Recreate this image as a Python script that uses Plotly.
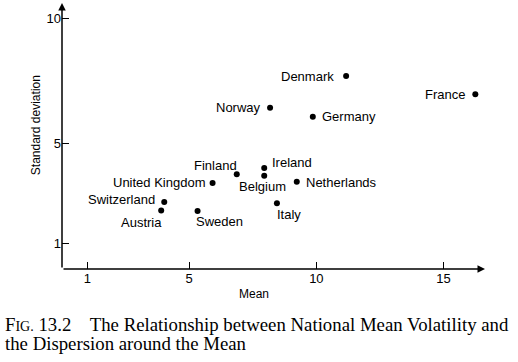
import plotly.graph_objects as go

countries = ["Denmark", "France", "Norway", "Germany", "Ireland", "Belgium", "Finland",
             "United Kingdom", "Netherlands", "Switzerland", "Austria", "Sweden", "Italy"]
mean_vol = [11.17, 16.25, 8.18, 9.86, 7.95, 7.95, 6.87, 5.92, 9.23, 4.02, 3.90, 5.33, 8.45]
std_dev = [7.69, 6.96, 6.43, 6.07, 4.02, 3.72, 3.78, 3.43, 3.48, 2.67, 2.33, 2.31, 2.62]
x_ticks = [1, 5, 10, 15]
y_ticks = [1, 5, 10]
x_max = 16.63
y_max = 10.6

# label placement (anchor side, pixel shifts) for each country
label_anchor = ["right", "right", "right", "left", "left", "center", "right",
                "right", "left", "right", "right", "left", "left"]
label_dx = [-10, -8, -7, 7, 6, -2, 2, -5, 7.5, -7, 2.5, -4, -1.5]
label_dy = [0, 0, 0, 0, 5.5, -11, 8.5, 0, -1, 2.5, -11.5, -10.5, -11]

font_sans = "Liberation Sans, Arial, sans-serif"
font_serif = "Liberation Serif, Times New Roman, serif"

fig = go.Figure()
fig.add_trace(go.Scatter(
    x=mean_vol, y=std_dev, mode="markers",
    marker=dict(color="black", size=6),
    cliponaxis=False, showlegend=False, hoverinfo="skip",
))

for name, xv, yv, anc, dx, dy in zip(countries, mean_vol, std_dev, label_anchor, label_dx, label_dy):
    fig.add_annotation(x=xv, y=yv, xref="x", yref="y", text=name, showarrow=False,
                       xanchor=anc, yanchor="middle", xshift=dx, yshift=dy,
                       font=dict(family=font_sans, size=13, color="black"))

axis_common = dict(showgrid=False, zeroline=False, showline=False,
                   ticks="inside", ticklen=7, tickwidth=1.3, tickcolor="black",
                   tickfont=dict(family=font_sans, size=13, color="black"))
fig.update_xaxes(range=[0, x_max], tickvals=x_ticks, **axis_common)
fig.update_yaxes(range=[0, y_max], tickvals=y_ticks, **axis_common)

# axes with arrowheads
fig.add_annotation(x=x_max, y=0, ax=0, ay=0, xref="x", yref="y", axref="x", ayref="y",
                   text="", showarrow=True, arrowhead=2, arrowsize=1, arrowwidth=1.5,
                   arrowcolor="black")
fig.add_annotation(x=0, y=y_max, ax=0, ay=0, xref="x", yref="y", axref="x", ayref="y",
                   text="", showarrow=True, arrowhead=2, arrowsize=1, arrowwidth=1.5,
                   arrowcolor="black")

fig.add_annotation(text="Standard deviation", textangle=-90, xref="paper", yref="paper",
                   x=-0.063, y=0.542, xanchor="center", yanchor="middle", showarrow=False,
                   font=dict(family=font_sans, size=12, color="black"))
fig.add_annotation(text="Mean", xref="paper", yref="paper", x=0.454, y=-0.094,
                   xanchor="center", yanchor="middle",
                   showarrow=False, font=dict(family=font_sans, size=12, color="black"))
fig.add_annotation(
    text="F<span style='font-size:14px'>IG.</span> 13.2&nbsp;&nbsp;&nbsp; The Relationship between National Mean Volatility and",
    xref="paper", yref="paper", x=-0.1385, y=-0.210, xanchor="left", yanchor="middle",
    align="left", showarrow=False, font=dict(family=font_serif, size=18.8, color="black"))
fig.add_annotation(
    text="the Dispersion around the Mean",
    xref="paper", yref="paper", x=-0.1385, y=-0.2816, xanchor="left", yanchor="middle",
    align="left", showarrow=False, font=dict(family=font_serif, size=18.8, color="black"))

fig.update_layout(width=518, height=362, margin=dict(l=62, r=33, t=3, b=93),
                  paper_bgcolor="white", plot_bgcolor="white")
fig.write_html("out.html", config={"displayModeBar": False},
               post_script="document.body.style.margin='0';document.body.style.overflow='hidden';")
